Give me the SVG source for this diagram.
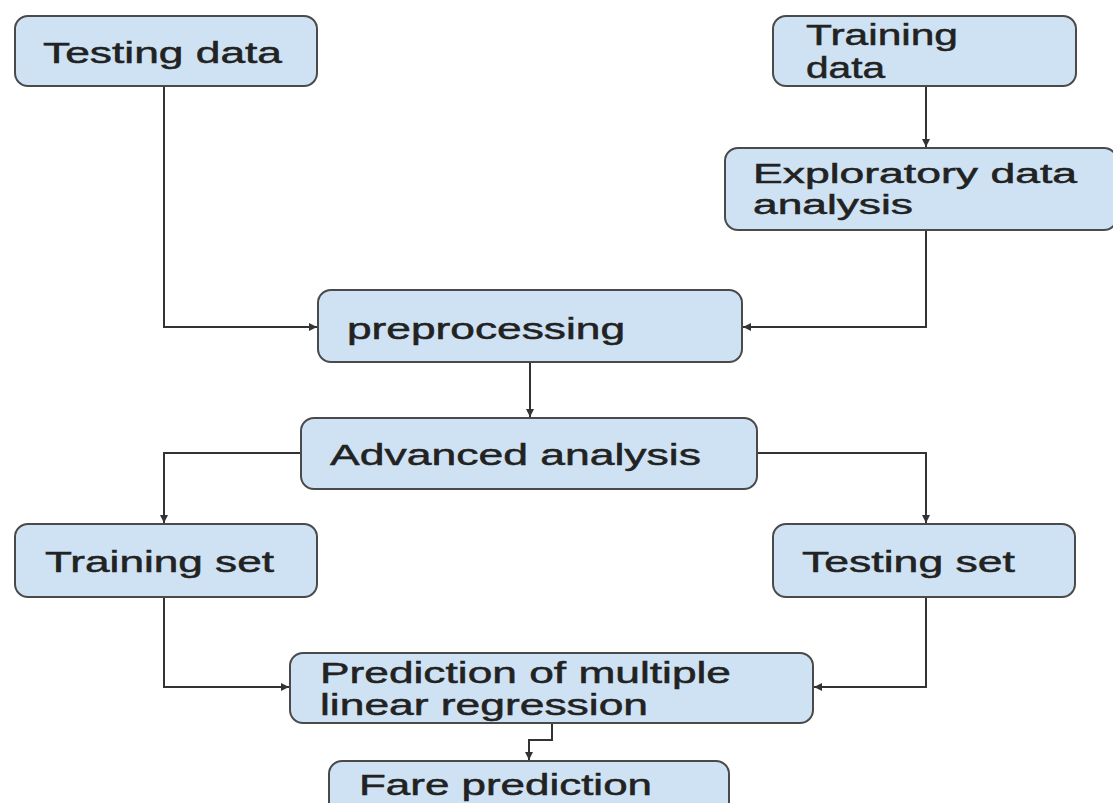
<svg xmlns="http://www.w3.org/2000/svg" width="1113" height="803" viewBox="0 0 1113 803">
<style>
.box{fill:#cfe2f3;stroke:#4a4a4a;stroke-width:2}
.lbl{font-family:"Liberation Sans",Arial,sans-serif;font-size:29px;fill:#222;stroke:#222;stroke-width:0.5}
.sm{font-size:27px}
.conn{fill:none;stroke:#333;stroke-width:2}
</style>
<defs>
<marker id="arr" viewBox="0 0 10 10" refX="10" refY="5" markerWidth="4" markerHeight="4" orient="auto" markerUnits="strokeWidth">
<path d="M0 0 L10 5 L0 10 z" fill="#333"/>
</marker>
</defs>
<rect width="1113" height="803" fill="#fff"/>
<g id="connectors">
<path class="conn" d="M164 86 V327 H317" marker-end="url(#arr)"/>
<path class="conn" d="M926 86 V147" marker-end="url(#arr)"/>
<path class="conn" d="M926 230 V327 H743" marker-end="url(#arr)"/>
<path class="conn" d="M530 362 V417" marker-end="url(#arr)"/>
<path class="conn" d="M301 453 H164 V523" marker-end="url(#arr)"/>
<path class="conn" d="M757 453 H926 V523" marker-end="url(#arr)"/>
<path class="conn" d="M164 597 V687 H289" marker-end="url(#arr)"/>
<path class="conn" d="M926 597 V687 H814" marker-end="url(#arr)"/>
<path class="conn" d="M552 723 V740 H529 V760" marker-end="url(#arr)"/>
</g>
<g id="testing-data">
<rect class="box" x="15" y="16" width="302" height="70" rx="13"/>
<text class="lbl" x="43" y="63" textLength="239" lengthAdjust="spacingAndGlyphs">Testing data</text>
</g>
<g id="training-data">
<rect class="box" x="773" y="16" width="303" height="70" rx="13"/>
<text class="lbl" x="806" y="45" textLength="152" lengthAdjust="spacingAndGlyphs">Training</text>
<text class="lbl" x="806" y="78" textLength="79" lengthAdjust="spacingAndGlyphs">data</text>
</g>
<g id="exploratory">
<rect class="box" x="725" y="148" width="392" height="82" rx="13"/>
<text class="lbl sm" x="753" y="183" textLength="324" lengthAdjust="spacingAndGlyphs">Exploratory data</text>
<text class="lbl sm" x="753" y="214" textLength="160" lengthAdjust="spacingAndGlyphs">analysis</text>
</g>
<g id="preprocessing">
<rect class="box" x="318" y="290" width="424" height="72" rx="13"/>
<text class="lbl" x="347" y="339" textLength="278" lengthAdjust="spacingAndGlyphs">preprocessing</text>
</g>
<g id="advanced">
<rect class="box" x="301" y="418" width="456" height="71" rx="13"/>
<text class="lbl" x="330" y="465" textLength="371" lengthAdjust="spacingAndGlyphs">Advanced analysis</text>
</g>
<g id="training-set">
<rect class="box" x="15" y="524" width="302" height="73" rx="13"/>
<text class="lbl" x="45" y="572" textLength="229" lengthAdjust="spacingAndGlyphs">Training set</text>
</g>
<g id="testing-set">
<rect class="box" x="773" y="524" width="302" height="73" rx="13"/>
<text class="lbl" x="802" y="572" textLength="213" lengthAdjust="spacingAndGlyphs">Testing set</text>
</g>
<g id="prediction">
<rect class="box" x="290" y="653" width="523" height="70" rx="13"/>
<text class="lbl" x="320" y="683" textLength="411" lengthAdjust="spacingAndGlyphs">Prediction of multiple</text>
<text class="lbl" x="320" y="715" textLength="328" lengthAdjust="spacingAndGlyphs">linear regression</text>
</g>
<g id="fare">
<rect class="box" x="329" y="761" width="400" height="60" rx="13"/>
<text class="lbl" x="359" y="795" textLength="293" lengthAdjust="spacingAndGlyphs">Fare prediction</text>
</g>
</svg>
